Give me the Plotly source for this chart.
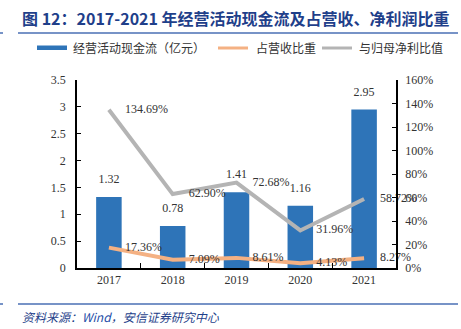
import plotly.graph_objects as go

years = ["2017", "2018", "2019", "2020", "2021"]
cash_flow = [1.32, 0.78, 1.41, 1.16, 2.95]
rev_ratio = [17.36, 7.09, 8.61, 4.13, 8.27]
np_ratio = [134.69, 62.90, 72.68, 31.96, 58.72]

title_text = "图 12：2017-2021 年经营活动现金流及占营收、净利润比重"
legend_names = ["经营活动现金流（亿元）", "占营收比重", "与归母净利比值"]
source_text = "资料来源：<span style='color:#1f4fa8'>Wind</span>，安信证券研究中心"

BLUE = "#2e74b8"
ORANGE = "#f4b183"
GRAY = "#b4b4b4"
SERIF = "Liberation Serif, Times New Roman, serif"
CJK = "Noto Sans CJK SC"

W, H = 461, 329
L, R, T, B = 77, 65, 80, 61
pw, ph = W - L - R, H - T - B

def px(x):
    return (x - L) / pw

def py(y):
    return (H - B - y) / ph

fig = go.Figure()
fig.add_trace(go.Bar(
    x=years, y=cash_flow, marker_color=BLUE, marker_line_width=0,
    name=legend_names[0], showlegend=False, width=0.4,
))
fig.add_trace(go.Scatter(
    x=years, y=cash_flow, mode="markers+text", text=[f"{v:.2f}" for v in cash_flow],
    marker=dict(size=16, opacity=0),
    textposition="top center", textfont=dict(family=SERIF, size=12, color="#333"),
    showlegend=False, hoverinfo="skip", cliponaxis=False,
))
fig.add_trace(go.Scatter(
    x=years, y=rev_ratio, yaxis="y2", mode="lines+markers+text",
    line=dict(color=ORANGE, width=4), marker=dict(size=24, opacity=0),
    text=[f"{v:.2f}%" for v in rev_ratio], textposition="middle right",
    textfont=dict(family=SERIF, size=12, color="#333"),
    name=legend_names[1], showlegend=False, cliponaxis=False,
))
fig.add_trace(go.Scatter(
    x=years, y=np_ratio, yaxis="y2", mode="lines+markers+text",
    line=dict(color=GRAY, width=4), marker=dict(size=24, opacity=0),
    text=[f"{v:.2f}%" for v in np_ratio], textposition="middle right",
    textfont=dict(family=SERIF, size=12, color="#333"),
    name=legend_names[2], showlegend=False, cliponaxis=False,
))

shapes = [
    dict(type="line", xref="paper", yref="paper", x0=px(18), x1=px(458), y0=py(33), y1=py(33),
         line=dict(color="#4a6fb5", width=1.5)),
    dict(type="line", xref="paper", yref="paper", x0=px(0), x1=px(3), y0=py(33), y1=py(33),
         line=dict(color="#4a6fb5", width=1.5)),
    dict(type="line", xref="paper", yref="paper", x0=px(18), x1=px(458), y0=py(304), y1=py(304),
         line=dict(color="#4a6fb5", width=1.5)),
    dict(type="line", xref="paper", yref="paper", x0=px(0), x1=px(3), y0=py(304), y1=py(304),
         line=dict(color="#4a6fb5", width=1.5)),
    dict(type="rect", xref="paper", yref="paper", x0=px(37), x1=px(67), y0=py(50), y1=py(45.5),
         fillcolor=BLUE, line_width=0),
    dict(type="line", xref="paper", yref="paper", x0=px(218), x1=px(248), y0=py(48), y1=py(48),
         line=dict(color=ORANGE, width=3)),
    dict(type="line", xref="paper", yref="paper", x0=px(322), x1=px(352), y0=py(48), y1=py(48),
         line=dict(color=GRAY, width=3)),
]

annotations = [
    dict(text=f"<b>{title_text}</b>", xref="paper", yref="paper", x=px(20), y=py(18),
         xanchor="left", yanchor="middle", showarrow=False,
         font=dict(family=CJK, size=16, color="#1f3f8a")),
    dict(text=legend_names[0], xref="paper", yref="paper", x=px(71), y=py(48),
         xanchor="left", yanchor="middle", showarrow=False, font=dict(family=CJK, size=12, color="#333")),
    dict(text=legend_names[1], xref="paper", yref="paper", x=px(254), y=py(48),
         xanchor="left", yanchor="middle", showarrow=False, font=dict(family=CJK, size=12, color="#333")),
    dict(text=legend_names[2], xref="paper", yref="paper", x=px(357), y=py(48),
         xanchor="left", yanchor="middle", showarrow=False, font=dict(family=CJK, size=12, color="#333")),
    dict(text=f"<i>{source_text}</i>", xref="paper", yref="paper", x=px(20), y=py(316),
         xanchor="left", yanchor="middle", showarrow=False, font=dict(family=CJK, size=12, color="#1f3f8a")),
]

fig.update_layout(
    width=W, height=H, margin=dict(l=L, r=R, t=T, b=B),
    paper_bgcolor="white", plot_bgcolor="white",
    shapes=shapes, annotations=annotations,
    xaxis=dict(type="category", showline=True, linecolor="#000", linewidth=1.5,
               ticks="inside", tickson="boundaries", ticklen=5, tickcolor="#000",
               tickfont=dict(family=SERIF, size=12, color="#333"), showgrid=False),
    yaxis=dict(range=[0, 3.5], dtick=0.5, showline=True, linecolor="#000", linewidth=1.5,
               ticks="inside", ticklen=4, tickcolor="#000", showgrid=False, zeroline=False,
               ticklabelstandoff=7,
               tickfont=dict(family=SERIF, size=12, color="#333")),
    yaxis2=dict(range=[0, 160], dtick=20, overlaying="y", side="right", showline=True,
                linecolor="#000", linewidth=1.5, ticks="inside", ticklen=4, tickcolor="#000",
                showgrid=False, zeroline=False, ticksuffix="%", ticklabelstandoff=5,
                tickfont=dict(family=SERIF, size=12, color="#333")),
    bargap=0.6,
)

fig.write_html("out.html")
